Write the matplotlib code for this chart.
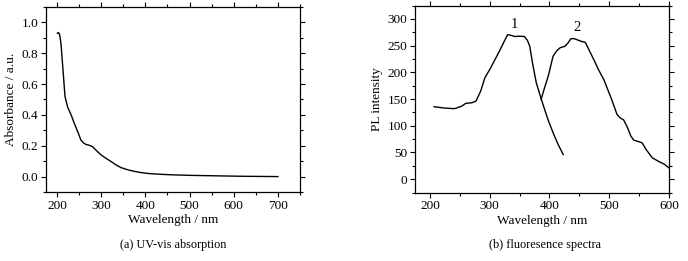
import matplotlib
matplotlib.use('Agg')
import matplotlib.pyplot as plt
from matplotlib.ticker import MultipleLocator

plt.rcParams['font.family'] = ['Liberation Serif', 'DejaVu Serif']

# (a) UV-vis absorption
uv_nm = [201, 203, 206, 209, 213, 218, 224, 232, 239, 247, 254, 260, 266, 273, 280, 287,
         293, 300, 310, 322, 334, 345, 360, 375, 390, 410, 440, 465, 500, 540, 578, 620, 660, 700]
uv_abs = [0.93, 0.935, 0.92, 0.86, 0.71, 0.52, 0.45, 0.40, 0.345, 0.29, 0.237, 0.218, 0.208,
          0.203, 0.195, 0.175, 0.158, 0.14, 0.12, 0.098, 0.075, 0.058, 0.044, 0.034, 0.026,
          0.019, 0.014, 0.011, 0.008, 0.006, 0.004, 0.002, 0.001, 0.0]

# (b) fluorescence spectra
pl1_nm = [207, 225, 241, 252, 260, 270, 277, 285, 292, 300, 308, 316, 323, 330, 336, 342,
          350, 358, 363, 367, 372, 378, 384, 390, 398, 406, 414, 423]
pl1_int = [135.6, 133, 131.9, 136, 141.8, 143, 146, 165, 190, 205, 222, 239, 255, 270.5,
           269, 267, 267.5, 267, 260, 248.7, 215, 180, 158, 136.8, 110, 87, 66, 46]
pl2_nm = [386, 392, 398, 406, 412, 418, 426, 431, 436, 441, 446, 453, 460, 467, 474, 482,
          491, 502, 508, 513, 519, 524, 530, 536, 541, 547, 555, 562, 572, 583, 592, 600]
pl2_int = [149, 172, 193, 230, 240, 246, 248.7, 255, 263, 263, 261, 258, 256, 240, 224, 205,
           186, 155, 137, 121, 114, 111, 98, 81, 73, 71, 68, 55, 40, 33, 28, 21]

fig = plt.figure(figsize=(6.88, 2.61), dpi=100)
ax1 = fig.add_axes([46 / 688, 1 - 192 / 261, 254 / 688, 185 / 261])
ax2 = fig.add_axes([415 / 688, 1 - 192.5 / 261, 254 / 688, 187 / 261])


def style(ax):
    for s in ax.spines.values():
        s.set_linewidth(0.9)
    ax.tick_params(which='both', direction='out', top=True, right=True,
                   labelsize=9.5, width=0.8, pad=2)
    ax.tick_params(which='major', length=3.5)
    ax.tick_params(which='minor', length=2)


ax1.plot(uv_nm, uv_abs, color='black', lw=1.0)
ax1.set_xlim(175, 750)
ax1.set_ylim(-0.1, 1.1)
ax1.xaxis.set_major_locator(MultipleLocator(100))
ax1.xaxis.set_minor_locator(MultipleLocator(50))
ax1.yaxis.set_minor_locator(MultipleLocator(0.1))
ax1.set_yticks([0.0, 0.2, 0.4, 0.6, 0.8, 1.0])
ax1.yaxis.set_major_formatter(plt.FormatStrFormatter('%.1f'))
style(ax1)
ax1.set_xlabel('Wavelength / nm', fontsize=9.5, labelpad=2)
ax1.set_ylabel('Absorbance / a.u.', fontsize=9.5, labelpad=3)
fig.text(173 / 688, 1 - 245 / 261, '(a) UV-vis absorption', ha='center', va='center', fontsize=8.8)

ax2.plot(pl1_nm, pl1_int, color='black', lw=1.0)
ax2.plot(pl2_nm, pl2_int, color='black', lw=1.0)
ax2.set_xlim(175, 600)
ax2.set_ylim(-25, 325)
ax2.xaxis.set_major_locator(MultipleLocator(100))
ax2.xaxis.set_minor_locator(MultipleLocator(50))
ax2.yaxis.set_minor_locator(MultipleLocator(25))
ax2.set_yticks([0, 50, 100, 150, 200, 250, 300])
style(ax2)
ax2.set_xlabel('Wavelength / nm', fontsize=9.5, labelpad=2)
ax2.set_ylabel('PL intensity', fontsize=9.5, labelpad=3)
ax2.text(342, 289, '1', ha='center', va='center', fontsize=10.5)
ax2.text(446, 283, '2', ha='center', va='center', fontsize=10.5)
fig.text(545 / 688, 1 - 245 / 261, '(b) fluoresence spectra', ha='center', va='center', fontsize=8.8)

fig.savefig('out.png', dpi=100)
